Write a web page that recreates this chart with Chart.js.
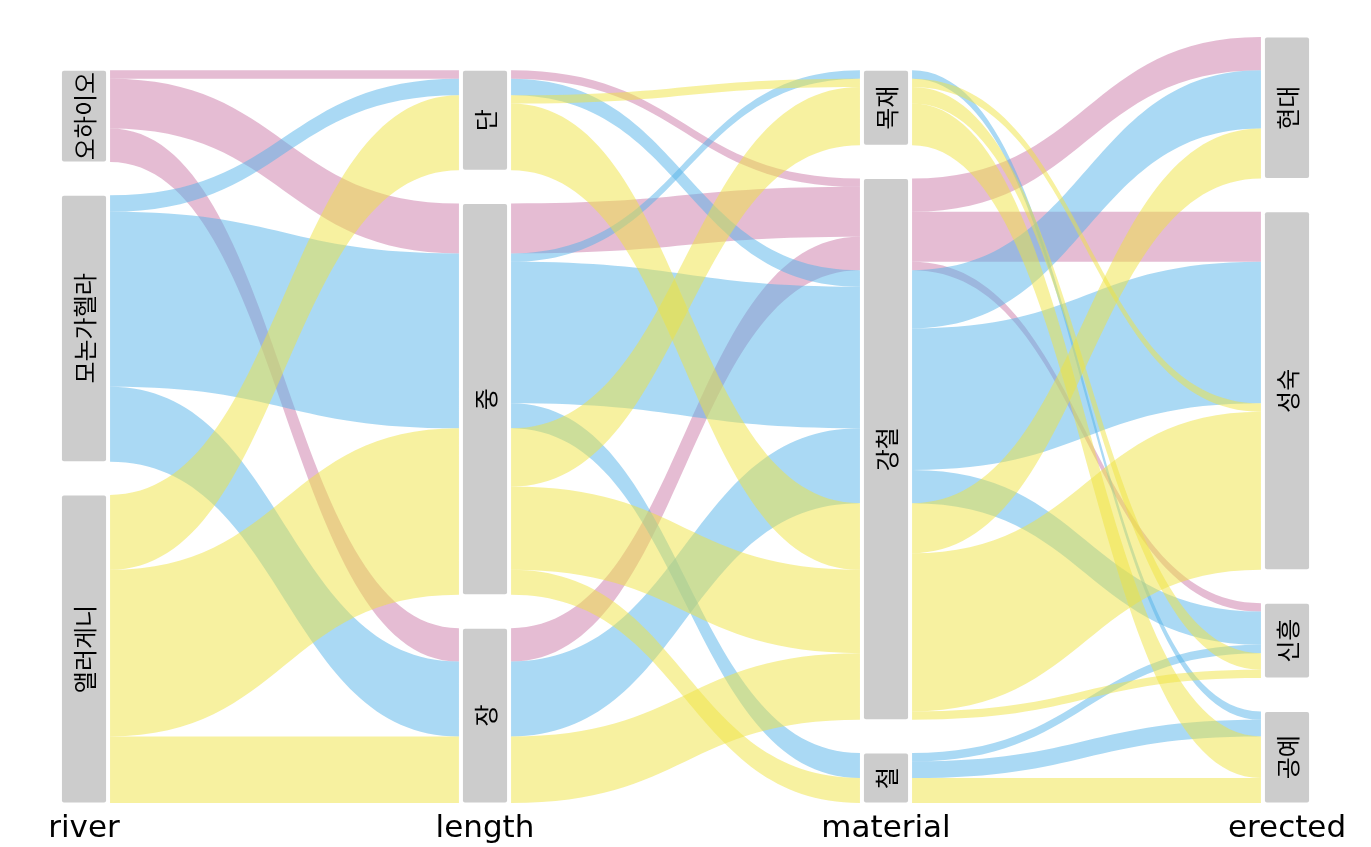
<!DOCTYPE html>
<html>
<head>
<meta charset="utf-8">
<title>Alluvial</title>
<script src="https://cdn.jsdelivr.net/npm/chart.js@4.4.1/dist/chart.umd.min.js"></script>
<style>
  html, body { margin: 0; padding: 0; background: #fff; }
  canvas { display: block; }
</style>
</head>
<body>
<canvas id="alluvial" width="1371" height="847"></canvas>
<script>
// axes and their strata (top to bottom)
const axisNames = ['river', 'length', 'material', 'erected'];
const riverLevels = ['오하이오', '모논가헬라', '앨러게니'];
const lengthLevels = ['단', '중', '장'];
const materialLevels = ['목재', '강철', '철'];
const erectedLevels = ['현대', '성숙', '신흥', '공예'];

// flows: [river, from, to, count]
const riverToLength = [
    ['오하이오', '오하이오', '단', 1],
    ['오하이오', '오하이오', '중', 6],
    ['오하이오', '오하이오', '장', 4],
    ['모논가헬라', '모논가헬라', '단', 2],
    ['모논가헬라', '모논가헬라', '중', 21],
    ['모논가헬라', '모논가헬라', '장', 9],
    ['앨러게니', '앨러게니', '단', 9],
    ['앨러게니', '앨러게니', '중', 20],
    ['앨러게니', '앨러게니', '장', 8]
];

const lengthToMaterial = [
    ['오하이오', '단', '강철', 1],
    ['오하이오', '중', '강철', 6],
    ['오하이오', '장', '강철', 4],
    ['모논가헬라', '단', '강철', 2],
    ['모논가헬라', '중', '목재', 1],
    ['모논가헬라', '중', '강철', 17],
    ['모논가헬라', '중', '철', 3],
    ['모논가헬라', '장', '강철', 9],
    ['앨러게니', '단', '목재', 1],
    ['앨러게니', '단', '강철', 8],
    ['앨러게니', '중', '목재', 7],
    ['앨러게니', '중', '강철', 10],
    ['앨러게니', '중', '철', 3],
    ['앨러게니', '장', '강철', 8]
];

const materialToErected = [
    ['오하이오', '강철', '현대', 4],
    ['오하이오', '강철', '성숙', 6],
    ['오하이오', '강철', '신흥', 1],
    ['모논가헬라', '목재', '공예', 1],
    ['모논가헬라', '강철', '현대', 7],
    ['모논가헬라', '강철', '성숙', 17],
    ['모논가헬라', '강철', '신흥', 4],
    ['모논가헬라', '철', '신흥', 1],
    ['모논가헬라', '철', '공예', 2],
    ['앨러게니', '목재', '성숙', 1],
    ['앨러게니', '목재', '신흥', 2],
    ['앨러게니', '목재', '공예', 5],
    ['앨러게니', '강철', '현대', 6],
    ['앨러게니', '강철', '성숙', 19],
    ['앨러게니', '강철', '신흥', 1],
    ['앨러게니', '철', '공예', 3]
];

const riverColors = {
    '오하이오': 'rgba(204, 121, 167, 0.5)',
    '모논가헬라': 'rgba(86, 180, 233, 0.5)',
    '앨러게니': 'rgba(240, 228, 66, 0.5)'
};

const axisLevels = [riverLevels, lengthLevels, materialLevels, erectedLevels];
const pairs = [riverToLength, lengthToMaterial, materialToErected].map(list =>
    list.map(r => ({ river: r[0], from: r[1], to: r[2], n: r[3] })));

const total = riverToLength.reduce((s, r) => s + r[3], 0);
const sep = 0.05 * total;

// stratum totals per axis
function sumBy(links, key, levels) {
    const t = {};
    levels.forEach(l => { t[l] = 0; });
    links.forEach(k => { t[k[key]] += k.n; });
    return t;
}
const axisTotals = [
    sumBy(pairs[0], 'from', riverLevels),
    sumBy(pairs[0], 'to', lengthLevels),
    sumBy(pairs[1], 'to', materialLevels),
    sumBy(pairs[2], 'to', erectedLevels)
];

// stack strata from the bottom, first level on top
const spans = axisLevels.map((levels, a) => {
    const span = {};
    let cursor = total + sep * (levels.length - 1);
    levels.forEach(l => {
        span[l] = { top: cursor, bottom: cursor - axisTotals[a][l] };
        cursor -= axisTotals[a][l] + sep;
    });
    return span;
});
const yMax = Math.max(...axisLevels.map(l => total + sep * (l.length - 1)));

// place each flow inside its strata: by river, then by the other stratum
const riverIdx = r => riverLevels.indexOf(r);
pairs.forEach((links, a) => {
    const fromLv = axisLevels[a], toLv = axisLevels[a + 1];
    fromLv.forEach(s => {
        let c = spans[a][s].top;
        links.filter(k => k.from === s)
            .sort((p, q) => riverIdx(p.river) - riverIdx(q.river) || toLv.indexOf(p.to) - toLv.indexOf(q.to))
            .forEach(k => { k.srcTop = c; c -= k.n; });
    });
    toLv.forEach(t => {
        let c = spans[a + 1][t].top;
        links.filter(k => k.to === t)
            .sort((p, q) => riverIdx(p.river) - riverIdx(q.river) || fromLv.indexOf(p.from) - fromLv.indexOf(q.from))
            .forEach(k => { k.tgtTop = c; c -= k.n; });
    });
});

const half = 0.065;

const alluvialPlugin = {
    id: 'alluvial',
    beforeDatasetsDraw(chart) {
        const { ctx, scales: { x, y } } = chart;
        ctx.save();
        // ribbons
        pairs.forEach((links, a) => {
            const x0 = x.getPixelForValue(a + half);
            const x1 = x.getPixelForValue(a + 1 - half);
            const xm = (x0 + x1) / 2;
            links.forEach(k => {
                const s0 = y.getPixelForValue(k.srcTop), s1 = y.getPixelForValue(k.srcTop - k.n);
                const t0 = y.getPixelForValue(k.tgtTop), t1 = y.getPixelForValue(k.tgtTop - k.n);
                ctx.beginPath();
                ctx.moveTo(x0, s0);
                ctx.bezierCurveTo(xm, s0, xm, t0, x1, t0);
                ctx.lineTo(x1, t1);
                ctx.bezierCurveTo(xm, t1, xm, s1, x0, s1);
                ctx.closePath();
                ctx.fillStyle = riverColors[k.river];
                ctx.fill();
            });
        });
        // strata boxes and labels
        axisLevels.forEach((levels, a) => {
            const left = x.getPixelForValue(a - half) + 4;
            const right = x.getPixelForValue(a + half) - 4;
            levels.forEach(l => {
                const top = y.getPixelForValue(spans[a][l].top) + 0.5;
                const bottom = y.getPixelForValue(spans[a][l].bottom) - 0.5;
                ctx.fillStyle = '#cccccc';
                ctx.beginPath();
                ctx.roundRect(left, top, right - left, bottom - top, 2);
                ctx.fill();
                ctx.save();
                ctx.translate((left + right) / 2, (top + bottom) / 2);
                ctx.rotate(-Math.PI / 2);
                ctx.fillStyle = '#000';
                ctx.font = '24px "Noto Sans CJK KR", sans-serif';
                ctx.textAlign = 'center';
                ctx.textBaseline = 'middle';
                ctx.fillText(l, 0, 1);
                ctx.restore();
            });
        });
        // axis names under each axis
        ctx.fillStyle = '#000';
        ctx.font = '31px "DejaVu Sans", sans-serif';
        ctx.textAlign = 'center';
        ctx.textBaseline = 'alphabetic';
        axisNames.forEach((name, a) => {
            ctx.fillText(name, x.getPixelForValue(a), y.getPixelForValue(0) + 34);
        });
        ctx.restore();
    }
};

const ctx = document.getElementById('alluvial').getContext('2d');
const chart = new Chart(ctx, {
    type: 'scatter',
    data: { datasets: [] },
    options: {
        responsive: false,
        animation: false,
        devicePixelRatio: 1,
        layout: { padding: { top: 37, bottom: 44, left: 3.8, right: 3.8 } },
        plugins: { legend: { display: false }, tooltip: { enabled: false } },
        scales: {
            x: { type: 'linear', display: false, min: -0.2, max: 3.2 },
            y: { type: 'linear', display: false, min: 0, max: yMax }
        }
    },
    plugins: [alluvialPlugin]
});
</script>
</body>
</html>
